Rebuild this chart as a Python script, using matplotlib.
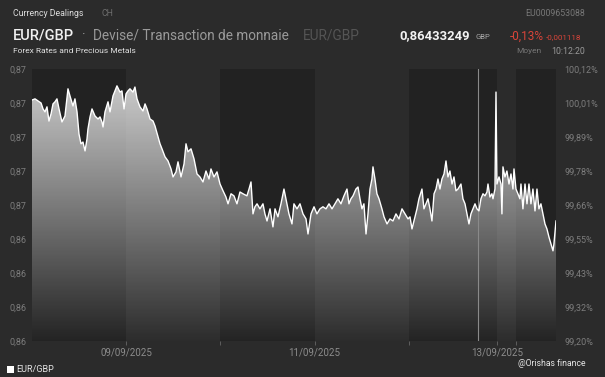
import matplotlib
matplotlib.use("Agg")
import matplotlib.pyplot as plt
import numpy as np
from matplotlib.patches import Polygon, Rectangle

# ---------------- data (time in chart-days from 08/09 start, value in % of reference) ----
times = [0, 0.032, 0.064, 0.096, 0.117, 0.138, 0.159, 0.180, 0.202, 0.223, 0.244, 0.265, 0.287,
         0.318, 0.350, 0.382, 0.403, 0.435, 0.456, 0.478, 0.499, 0.520, 0.541, 0.563, 0.584, 0.594,
         0.616, 0.637, 0.669, 0.701, 0.722, 0.743, 0.754, 0.775, 0.807, 0.828, 0.860, 0.881, 0.902,
         0.934, 0.955, 0.977, 0.998, 1.019, 1.040, 1.072,
         1.093, 1.115, 1.146, 1.178, 1.200, 1.221, 1.253, 1.285, 1.306, 1.338, 1.359, 1.380, 1.412,
         1.444, 1.476, 1.497, 1.529, 1.550, 1.582, 1.614, 1.635, 1.656, 1.688, 1.720, 1.752, 1.783,
         1.815, 1.847, 1.879, 1.900, 1.932, 1.964, 1.996, 2.028, 2.059, 2.081, 2.113, 2.144, 2.176, 2.208,
         2.240, 2.282, 2.304, 2.325, 2.346, 2.367, 2.389, 2.420, 2.452, 2.473, 2.495, 2.527, 2.558,
         2.580, 2.611, 2.643, 2.675, 2.696, 2.728, 2.760, 2.781, 2.813, 2.845, 2.877, 2.909, 2.930,
         2.962, 2.994, 3.025, 3.057, 3.089, 3.121, 3.153, 3.185, 3.217, 3.248, 3.280, 3.312,
         3.344, 3.365, 3.386, 3.408, 3.439, 3.461, 3.482, 3.503, 3.524, 3.546, 3.567, 3.588, 3.609,
         3.620, 3.641, 3.662, 3.684, 3.715, 3.737, 3.769, 3.800, 3.832, 3.864, 3.896, 3.928, 3.960,
         3.992, 4.013, 4.034, 4.055, 4.087, 4.108, 4.140, 4.161, 4.183, 4.204, 4.225, 4.246, 4.268,
         4.289, 4.310, 4.331, 4.352, 4.374, 4.395, 4.416, 4.437, 4.459, 4.480,
         4.501, 4.522, 4.554, 4.575, 4.597, 4.618, 4.639, 4.660, 4.682, 4.703, 4.724, 4.745, 4.766,
         4.788, 4.809, 4.830, 4.841, 4.862, 4.883, 4.894, 4.915, 4.926, 4.936, 4.958, 4.979, 4.989,
         5.000, 5.021, 5.042, 5.064, 5.085, 5.106, 5.117, 5.138, 5.159, 5.180, 5.191, 5.212, 5.234,
         5.255, 5.276, 5.297, 5.318, 5.340, 5.361, 5.382, 5.403, 5.425, 5.446, 5.467, 5.488, 5.510,
         5.531, 5.541, 5.563]

values = [100.015, 100.019, 100.012, 100.005, 99.985, 99.975, 99.992, 99.944, 99.968, 100.002,
          100.009, 100.019, 99.985, 99.941, 99.961, 100.053, 100.029, 99.995, 100.019, 99.975,
          99.900, 99.867, 99.873, 99.843, 99.884, 99.917, 99.958, 99.985, 99.961, 99.951, 99.958,
          99.941, 99.924, 99.975, 100.009, 99.975, 100.029, 100.046, 100.063, 100.042, 100.046,
          99.985, 100.036, 100.046, 100.053, 100.042,
          100.059, 100.019, 99.992, 99.978, 100.002, 99.985, 99.951, 99.944, 99.927, 99.890, 99.867,
          99.850, 99.823, 99.809, 99.782, 99.755, 99.772, 99.806, 99.755, 99.799, 99.867, 99.840,
          99.850, 99.816, 99.765, 99.755, 99.738, 99.775, 99.748, 99.782, 99.755, 99.772, 99.731,
          99.708, 99.687, 99.664, 99.698, 99.691, 99.664, 99.704,
          99.698, 99.691, 99.714, 99.738, 99.630, 99.654, 99.664, 99.647, 99.664, 99.630, 99.606,
          99.647, 99.586, 99.647, 99.620, 99.664, 99.714, 99.681, 99.630, 99.596, 99.664, 99.647,
          99.664, 99.630, 99.613, 99.562, 99.630, 99.654, 99.630, 99.647, 99.654, 99.647, 99.664,
          99.647, 99.664, 99.681, 99.664, 99.691,
          99.714, 99.664, 99.681, 99.691, 99.714, 99.721, 99.681, 99.647, 99.664, 99.562, 99.630,
          99.714, 99.748, 99.789, 99.748, 99.698, 99.681, 99.647, 99.620, 99.596, 99.613, 99.606,
          99.630, 99.613, 99.647, 99.630, 99.613, 99.620, 99.579, 99.606, 99.647, 99.681, 99.714,
          99.647, 99.664, 99.681, 99.647, 99.606, 99.698, 99.714, 99.748, 99.714, 99.748, 99.765,
          99.809, 99.755, 99.775, 99.731, 99.755,
          99.708, 99.714, 99.731, 99.681, 99.664, 99.630, 99.596, 99.630, 99.647, 99.664, 99.647,
          99.640, 99.681, 99.698, 99.691, 99.704, 99.731, 99.687, 99.698, 99.681, 99.714, 100.042,
          99.731, 99.755, 99.731, 99.630, 99.789, 99.755, 99.775, 99.731, 99.765, 99.714, 99.782,
          99.714, 99.698, 99.681, 99.731, 99.647, 99.731, 99.664, 99.731, 99.664, 99.714, 99.640,
          99.714, 99.647, 99.664, 99.630, 99.596, 99.579, 99.552, 99.528, 99.505, 99.528, 99.606]

day_edges = [0.0, 1.0, 2.0, 3.0, 4.0, 4.94, 5.14, 5.563]
dark_days = [0, 2, 4, 6]
tick_labels = ["09/09/2025", "", "11/09/2025", "", "13/09/2025", ""]
gap_marker = 4.735

pct_ticks = [99.20, 99.315, 99.43, 99.545, 99.66, 99.775, 99.89, 100.005, 100.12]
pct_labels = ["99,20%", "99,32%", "99,43%", "99,55%", "99,66%", "99,78%", "99,89%", "100,01%", "100,12%"]
price_labels = ["0,86", "0,86", "0,86", "0,86", "0,87", "0,87", "0,87", "0,87", "0,87"]

# ---------------- figure ----------------
BG = "#2b2b2b"
W, H = 605, 377
plt.rcParams['font.family'] = ['Roboto', 'DejaVu Sans']
fig = plt.figure(figsize=(W / 100, H / 100), dpi=100, facecolor=BG)

L, R, T, B = 32, 556, 69, 341
ax = fig.add_axes([L / W, 1 - B / H, (R - L) / W, (B - T) / H])
ax.set_facecolor(BG)
x0, x1 = day_edges[0], day_edges[-1]
y0, y1 = pct_ticks[0], pct_ticks[-1]
ax.set_xlim(x0, x1)
ax.set_ylim(y0, y1)
for s in ax.spines.values():
    s.set_visible(False)

for i in dark_days:
    ax.axvspan(day_edges[i], day_edges[i + 1], color="#222222", lw=0, zorder=0)

# gradient fill under line
t = np.array(times)
v = np.array(values)
poly_xy = np.column_stack([np.r_[t[0], t, t[-1]], np.r_[y0, v, y0]])
poly = Polygon(poly_xy, closed=True, transform=ax.transData, facecolor="none", edgecolor="none")
ax.add_patch(poly)
n = 256
alpha = np.linspace(0.80, 0.01, n)
grad = np.zeros((n, 1, 4))
grad[..., 0:3] = 1.0
grad[:, 0, 3] = alpha
im = ax.imshow(grad, extent=[x0, x1, y0, y1], aspect="auto", origin="upper", zorder=1,
               interpolation="bilinear")
im.set_clip_path(poly)

ax.axvline(gap_marker, color="#8a8a8a", lw=0.8, zorder=2)
ax.plot(t, v, color="white", lw=1.0, zorder=3, solid_joinstyle="round")

# axes ticks
ax.set_xticks(day_edges[1:-1])
ax.set_xticklabels(tick_labels)
ax.tick_params(axis="x", colors="#666666", length=3, width=0.6, pad=2, labelsize=7,
               labelcolor="#8c8c8c")
ax.set_yticks(pct_ticks)
ax.set_yticklabels(price_labels)
ax.tick_params(axis="y", length=0, pad=4, labelsize=6.5, labelcolor="#7d7d7d")

ax2 = ax.twinx()
ax2.set_ylim(y0, y1)
ax2.set_yticks(pct_ticks)
ax2.set_yticklabels(pct_labels)
ax2.tick_params(axis="y", length=0, pad=6, labelsize=6.5, labelcolor="#7d7d7d")
for s in ax2.spines.values():
    s.set_visible(False)

# ---------------- header texts ----------------
def ftext(x, y, s, **kw):
    fig.text(x / W, 1 - y / H, s, va="center", **kw)

ftext(13, 13, "Currency Dealings", fontsize=6.3, color="#dddddd")
ftext(101, 13, "CH", fontsize=6.3, color="#6f6f6f")
ftext(585, 13, "EU0009653088", fontsize=6.3, color="#777777", ha="right")

ftext(13, 36, "EUR/GBP", fontsize=10.5, color="#f0f0f0", fontweight="medium")
ftext(82, 36, "·", fontsize=10, color="#9a9a9a")
ftext(93, 36, "Devise/ Transaction de monnaie", fontsize=9.8, color="#9a9a9a")
ftext(303, 36, "EUR/GBP", fontsize=9.8, color="#555555")
ftext(399, 36, "0,86433249", fontsize=9.4, color="#f2f2f2", fontweight="bold")
ftext(476, 37, "GBP", fontsize=5.5, color="#aaaaaa")
ftext(510, 36, "-0,13%", fontsize=8.5, color="#d9453a")
ftext(546, 37, "-0,001118", fontsize=5.8, color="#d9453a")
ftext(13, 51, "Forex Rates and Precious Metals", fontsize=6, color="#e0e0e0")
ftext(516, 51, "Moyen", fontsize=6, color="#777777")
ftext(585, 51, "10:12:20", fontsize=6.3, color="#999999", ha="right")

# legend & credit
fig.patches.append(Rectangle((7 / W, 1 - 373 / H), 7 / W, 7 / H, transform=fig.transFigure,
                             facecolor="white", edgecolor="none"))
ftext(16, 369, "EUR/GBP", fontsize=6.5, color="#e6e6e6")
ftext(518, 364, "@Orishas finance", fontsize=6.2, color="#e6e6e6")

fig.savefig("out.png", dpi=100, facecolor=BG)
